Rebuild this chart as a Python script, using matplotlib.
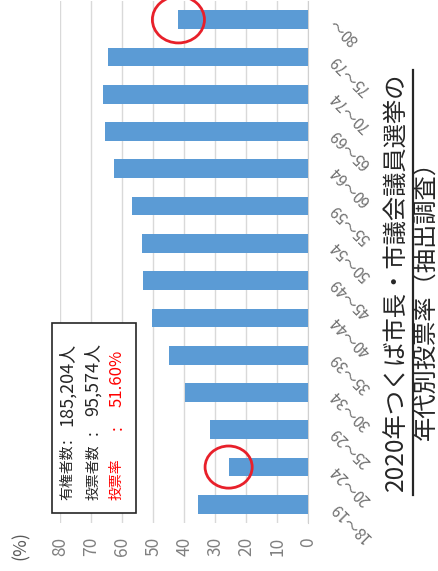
import matplotlib
matplotlib.use("Agg")
import matplotlib.pyplot as plt
from matplotlib.patches import Ellipse, Rectangle
from matplotlib.lines import Line2D

plt.rcParams['font.family'] = ['Noto Sans CJK JP', 'DejaVu Sans']

# age groups (bottom to top) and turnout in %
age_groups = ['18～19', '20～24', '25～29', '30～34', '35～39', '40～44', '45～49',
              '50～54', '55～59', '60～64', '65～69', '70～74', '75～79', '80～']
turnout = [35.6, 25.7, 31.6, 39.8, 44.9, 50.4, 53.2, 53.7, 57.0, 62.7, 65.6, 66.2, 64.7, 41.9]
x_ticks = [0, 10, 20, 30, 40, 50, 60, 70, 80]
circled = ['20～24', '80～']

summary_labels = ['有権者数', '投票者数', '投票率']
summary_values = ['185,204人', '95,574人', '51.60%']
summary_colors = ['#262626', '#262626', '#FF0000']

title_lines = ['2020年つくば市長・市議会議員選挙の', '年代別投票率（抽出調査）']

W, H = 439, 571
fig = plt.figure(figsize=(W / 100, H / 100), dpi=100)


def px(x, y):
    return x / W, 1 - y / H


ax = fig.add_axes([60.3 / W, 1 - 523 / H, (308.3 - 60.3) / W, 522 / H])
ypos = list(range(len(age_groups)))
ax.barh(ypos, turnout, height=0.5, color='#5B9BD5', zorder=3)
ax.set_xlim(80, 0)
ax.set_ylim(-0.5, len(age_groups) - 0.5)

ax.set_xticks(x_ticks)
ax.set_xticklabels([str(t) for t in x_ticks], rotation=90, color='#808080', fontsize=12.5)
ax.tick_params(axis='x', length=0, pad=10)
ax.grid(axis='x', color='#D9D9D9', lw=1, zorder=0)

ax.yaxis.tick_right()
ax.set_yticks(ypos)
ax.set_yticklabels(age_groups, rotation=135, ha='right', va='center',
                   rotation_mode='anchor', color='#707070', fontsize=11)
ax.tick_params(axis='y', length=0, pad=18)

for s in ['top', 'bottom', 'left']:
    ax.spines[s].set_visible(False)
ax.spines['right'].set_color('#D0D0D0')

# red rings around the bar ends worth attention
ring_size = {'20～24': (15.2, 1.13), '80～': (16.8, 1.25)}
for g in circled:
    i = age_groups.index(g)
    w, h = ring_size[g]
    ax.add_patch(Ellipse((turnout[i], i), w, h, fill=False, ec='#E8202A', lw=2,
                         zorder=5, clip_on=False))

# summary box
bx0, by0 = px(52, 513)
bx1, by1 = px(136, 323)
fig.add_artist(Rectangle((bx0, by0), bx1 - bx0, by1 - by0, transform=fig.transFigure,
                         fill=True, fc='white', ec='#262626', lw=1.2, zorder=10))
line_x = [67, 93, 117]
colon_y = [441, 433, 428]
value_top = [343, 343, 350]
value_size = [13, 13, 12]
for k in range(3):
    fig.text(*px(line_x[k], 500), summary_labels[k], rotation=90, ha='center', va='bottom',
             fontsize=10, color=summary_colors[k], zorder=11)
    fig.text(*px(line_x[k], colon_y[k]), ':', rotation=90, ha='center', va='center',
             fontsize=12, color=summary_colors[k], zorder=11)
    fig.text(*px(line_x[k], value_top[k]), summary_values[k], rotation=90, ha='center', va='top',
             fontsize=value_size[k], color=summary_colors[k], zorder=11)

fig.text(*px(21, 546), '(%)', rotation=90, ha='center', va='center', fontsize=13, color='#595959')

# title, rotated
fig.text(*px(397, 282), title_lines[0], rotation=90, ha='center', va='center',
         fontsize=17.5, color='#262626')
fig.add_artist(Line2D([412.7 / W, 412.7 / W], [1 - 495 / H, 1 - 70 / H],
                      transform=fig.transFigure, color='#262626', lw=1.6))
fig.text(*px(427, 294), title_lines[1], rotation=90, ha='center', va='center',
         fontsize=17.5, color='#262626')

fig.savefig('out.png', dpi=100, facecolor='white')
